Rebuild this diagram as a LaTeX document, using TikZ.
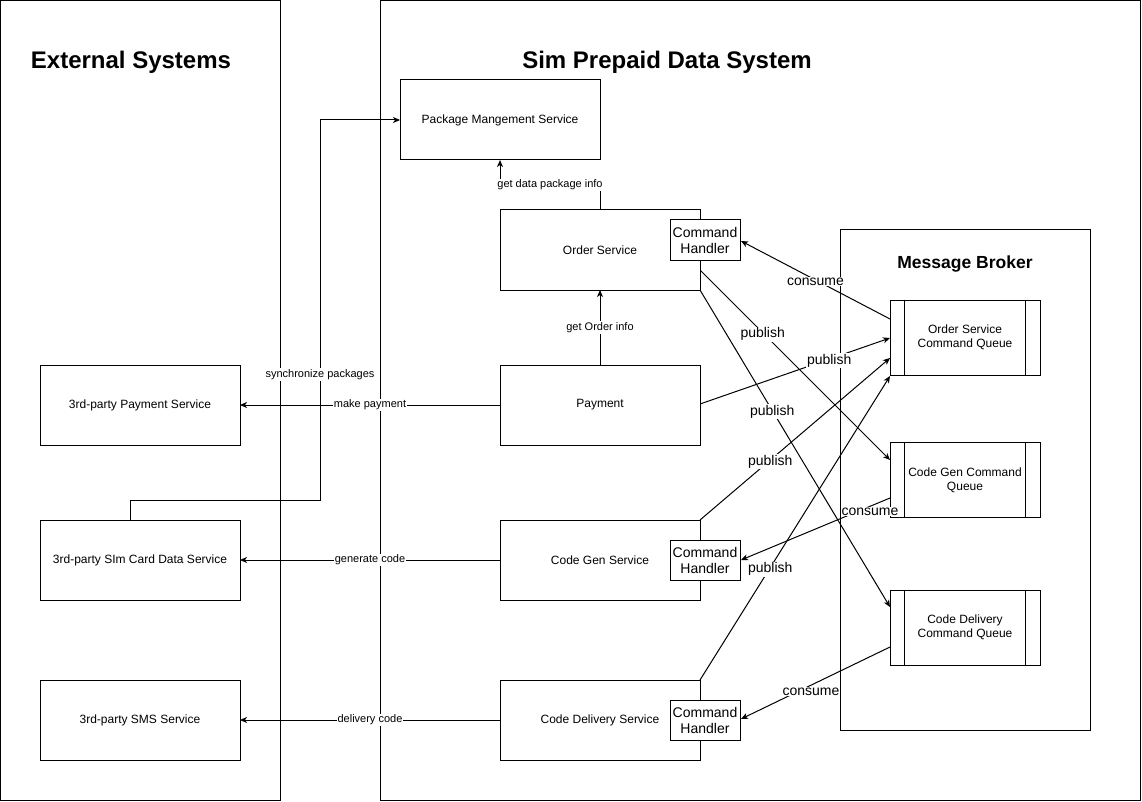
\documentclass[tikz,border=0pt]{standalone}
\usepackage{fontspec}
\setmainfont{Liberation Sans}
\usetikzlibrary{arrows.meta}
\begin{document}
\begin{tikzpicture}[x=1pt,y=-1pt,line width=1pt,
  box/.style={draw,fill=white,inner sep=0pt,align=center,font=\fontsize{12}{14}\selectfont},
  svc/.style={box,minimum width=200pt,minimum height=80pt},
  handler/.style={box,minimum width=70pt,minimum height=40pt,font=\fontsize{14}{16}\selectfont},
  queue/.style={box,minimum width=150pt,minimum height=75pt},
  container/.style={draw,fill=white},
  title/.style={font=\bfseries\fontsize{24}{28}\selectfont},
  lbl/.style={fill=white,inner sep=1pt,font=\fontsize{11}{13}\selectfont},
  blbl/.style={fill=white,inner sep=1pt,yshift=-1.5pt,font=\fontsize{14}{16}\selectfont},
  arr/.style={-{Stealth[length=7pt,width=6pt,inset=2pt]}}]
\useasboundingbox (0,0) rectangle (1142,802);
% containers
\draw[container] (0.5,0.5) rectangle (280,800);
\draw[container] (380,0.5) rectangle (1140,800);
\draw[container] (840,230) rectangle (1090,730);
\node[title] (texts) at (131,62) {External Systems};
\node[title] (tsim) at (667,62) {Sim Prepaid Data System};
\node[font=\bfseries\fontsize{17.5}{20}\selectfont] (tmb) at (965,264) {Message Broker};
% coordinates
\coordinate (ordR1) at (700,270);
\coordinate (ordBR) at (700,290);
\coordinate (payR) at (700,404);
\coordinate (cgTR) at (700,520);
\coordinate (cdTR) at (700,680);
\coordinate (oq1) at (890,319);
\coordinate (oq2) at (890,338);
\coordinate (oq3) at (890,358);
\coordinate (oq4) at (890,376);
\coordinate (cgq1) at (890,460);
\coordinate (cgq2) at (890,498);
\coordinate (cdq1) at (890,607);
\coordinate (cdq2) at (890,647);
% edges (drawn first, boxes over them)
\draw[arr] (130,520) -- (130,500) -- (320,500) -- node[lbl,pos=0.33]{synchronize packages} (320,120) -- (400,120);
\draw[arr] (600,210) -- (600,185) -- node[lbl]{get data package info} (500,185) -- (500,160);
\draw[arr] (600,365) -- node[lbl]{get Order info} (600,290);
\draw[arr] (500,405) -- node[lbl]{make payment} (240,405);
\draw[arr] (500,560) -- node[lbl]{generate code} (240,560);
\draw[arr] (500,720) -- node[lbl]{delivery code} (240,720);
\draw[arr] (oq1) -- node[blbl]{consume} (741,241);
\draw[arr] (payR) -- node[blbl,pos=0.68]{publish} (oq2);
\draw[arr] (ordR1) -- node[blbl,pos=0.33]{publish} (cgq1);
\draw[arr] (ordBR) -- node[blbl,pos=0.38]{publish} (cdq1);
\draw[arr] (cgTR) -- node[blbl,pos=0.37]{publish} (oq3);
\draw[arr] (cdTR) -- node[blbl,pos=0.37]{publish} (oq4);
\draw[arr] (cgq2) -- (741,560);
\draw[arr] (cdq2) -- (741,719);
\node[blbl] (cl3) at (811,690) {consume};
% boxes
\node[svc] (pkg) at (500,120) {Package Mangement Service};
\node[svc] (ord) at (600,250) {Order Service};
\node[svc] (pay) at (600,405) {Payment};
\node[svc] (cg) at (600,560) {Code Gen Service};
\node[svc] (cd) at (600,720) {Code Delivery Service};
\node[handler] (h1) at (705,240) {Command\\Handler};
\node[handler] (h2) at (705,560) {Command\\Handler};
\node[handler] (h3) at (705,720) {Command\\Handler};
\node[svc] (xpay) at (140,405) {3rd-party Payment Service};
\node[svc] (xsim) at (140,560) {3rd-party SIm Card Data Service};
\node[svc] (xsms) at (140,720) {3rd-party SMS Service};
% queues
\node[queue] (q1) at (965,337.5) {Order Service\\Command Queue};
\node[queue] (q2) at (965,480) {Code Gen Command\\Queue};
\node[queue] (q3) at (965,627.5) {Code Delivery\\Command Queue};
\foreach \q in {q1,q2,q3}{
  \draw ([xshift=15pt]\q.north west) -- ([xshift=15pt]\q.south west);
  \draw ([xshift=-15pt]\q.north east) -- ([xshift=-15pt]\q.south east);
}
% label of the code gen consume edge, over the queue corner
\node[blbl] (cl2) at (870,510) {consume};
\end{tikzpicture}
\end{document}
